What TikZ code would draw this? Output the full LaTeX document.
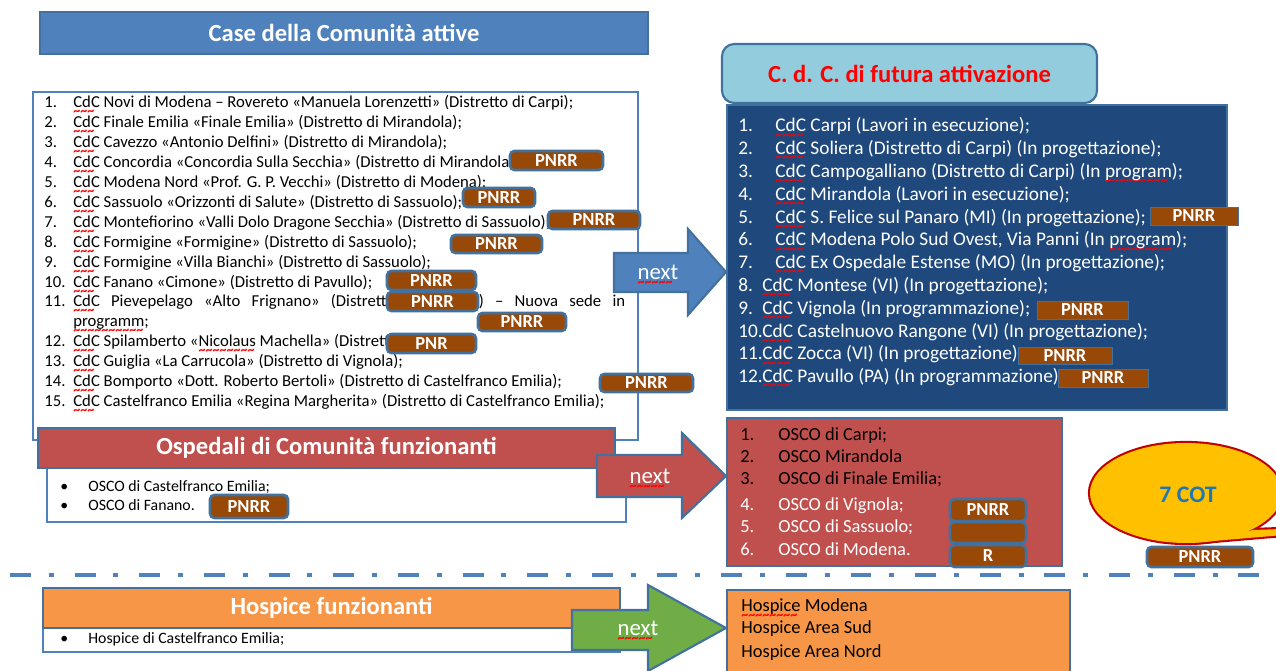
\documentclass[tikz,border=0pt]{standalone}
\usepackage{fontspec}
\setmainfont{Carlito}
\usetikzlibrary{fit}

\definecolor{hdrblue}{HTML}{4F81BD}
\definecolor{edgeblue}{HTML}{41719C}
\definecolor{skyblue}{HTML}{93CDDD}
\definecolor{navy}{HTML}{1F497D}
\definecolor{osred}{HTML}{C0504D}
\definecolor{hosorange}{HTML}{F79646}
\definecolor{nxtgreen}{HTML}{70AD47}
\definecolor{pnrrbrown}{HTML}{984807}
\definecolor{cotyellow}{HTML}{FFC000}
\definecolor{cotred}{HTML}{C00000}
\definecolor{cotblue}{HTML}{1F77B4}

% red spell-check wave
\newcommand\sq[1]{\setbox0=\hbox{#1}%
  \rlap{\raisebox{-4pt}[0pt][0pt]{\color{red}\fontsize{8}{8}\selectfont\bfseries
    \hbox to \wd0{\leaders\hbox{\textasciitilde}\hfill}}}#1}

\tikzset{
  hdrtxt/.style={text=white, font=\fontsize{14}{16}\selectfont\bfseries},
  hdr/.style={draw=edgeblue, line width=1.2pt, inner sep=0pt, label={[hdrtxt]center:#1}},
  box/.style={draw=edgeblue, line width=1.2pt, inner sep=0pt},
  pnrrtxt/.style={text=white, font=\fontsize{10.5}{12}\selectfont\bfseries},
  pnrr/.style={draw=edgeblue, fill=pnrrbrown, rounded corners=2.5pt, line width=1.5pt,
    inner sep=0pt, label={[pnrrtxt]center:#1}},
  pnrr/.default=PNRR,
  pnrrflat/.style={pnrr, rounded corners=0pt, line width=0.5pt},
  ltxt/.style={anchor=base west, inner sep=0pt},
  nexttxt/.style={text=white, font=\fontsize{13}{15}\selectfont},
  arrowbox/.style={draw=edgeblue, line width=1.2pt},
}

\begin{document}
\begin{tikzpicture}[x=0.02cm, y=-0.02cm]
  \useasboundingbox (0,0) rectangle (1276,671);
  \clip (0,0) rectangle (1276,671);

  % Case della Comunita attive
  \node[hdr=Case della Comunità attive, fill=hdrblue, fit={(40,12) (648,54)}] (attive) {};
  \node[box, draw=hdrblue, line width=0.8pt, fit={(33,92) (638,440)}] (attivelist) {};
  \foreach \y/\n/\t [count=\i] in {
      108/1./{\sq{CdC} Novi di Modena – Rovereto «Manuela Lorenzetti» (Distretto di Carpi);},
      128/2./{\sq{CdC} Finale Emilia «Finale Emilia» (Distretto di Mirandola);},
      148/3./{\sq{CdC} Cavezzo «Antonio Delfini» (Distretto di Mirandola);},
      168/4./{\sq{CdC} Concordia «Concordia Sulla Secchia» (Distretto di Mirandola);},
      188/5./{\sq{CdC} Modena Nord «Prof. G. P. Vecchi» (Distretto di Modena);},
      208/6./{\sq{CdC} Sassuolo «Orizzonti di Salute» (Distretto di Sassuolo);},
      228/7./{\sq{CdC} Montefiorino «Valli Dolo Dragone Secchia» (Distretto di Sassuolo);},
      248/8./{\sq{CdC} Formigine «Formigine» (Distretto di Sassuolo);},
      268/9./{\sq{CdC} Formigine «Villa Bianchi» (Distretto di Sassuolo);},
      288/10./{\sq{CdC} Fanano «Cimone» (Distretto di Pavullo);},
      307/11./{\makebox[11.04cm][s]{\sq{CdC} Pievepelago «Alto Frignano» (Distretto di Pavullo) – Nuova sede in}},
      327/{}/{\sq{programm};},
      347/12./{\sq{CdC} Spilamberto «\sq{Nicolaus} Machella» (Distretto di Vignola);},
      367/13./{\sq{CdC} Guiglia «La Carrucola» (Distretto di Vignola);},
      387/14./{\sq{CdC} Bomporto «Dott. Roberto Bertoli» (Distretto di Castelfranco Emilia);},
      407/15./{\sq{CdC} Castelfranco Emilia «Regina Margherita» (Distretto di Castelfranco Emilia);}}
    \node[ltxt, font=\fontsize{9.5}{11}\selectfont] (att\i) at (44,\y) {\makebox[0.58cm][l]{\n}\t};
  \node[pnrr, fit={(510,151) (603,170)}] (pnrra) {};
  \node[pnrr, fit={(463,188) (535,207)}] (pnrrb) {};
  \node[pnrr, fit={(548,211) (640,229)}] (pnrrc) {};
  \node[pnrr, fit={(451,235) (542,253)}] (pnrrd) {};
  \node[pnrr, fit={(387,271) (476,290)}] (pnrre) {};
  \node[pnrr, fit={(387,292) (478,311)}] (pnrrf) {};
  \node[pnrr, fit={(478,313) (566,331)}] (pnrrg) {};
  \node[pnrr=PNR, fit={(387,334) (476,353)}] (pnrrh) {};
  \node[pnrr, fit={(600,374) (693,392)}] (pnrri) {};

  % C. d. C. di futura attivazione
  \node[hdr={\textcolor{red}{C. d. C. di futura attivazione}}, fill=skyblue, rounded corners=7pt,
    fit={(722,44) (1097,103)}] (futura) {};
  \node[box, fill=navy, fit={(727,105) (1227,410)}] (futuralist) {};
  \foreach \n/\w/\t [count=\i] in {
      1./0.74/{\sq{CdC} Carpi (Lavori in esecuzione);},
      2./0.74/{\sq{CdC} Soliera (Distretto di Carpi) (In progettazione);},
      3./0.74/{\sq{CdC} Campogalliano (Distretto di Carpi) (In \sq{program});},
      4./0.74/{\sq{CdC} Mirandola (Lavori in esecuzione);},
      5./0.74/{\sq{CdC} S. Felice sul Panaro (MI) (In progettazione);},
      6./0.74/{\sq{CdC} Modena Polo Sud Ovest, Via Panni (In \sq{program});},
      7./0.74/{\sq{CdC} Ex Ospedale Estense (MO) (In progettazione);},
      8./0.48/{\sq{CdC} Montese (VI) (In progettazione);},
      9./0.48/{\sq{CdC} Vignola (In programmazione);},
      10./0.48/{\sq{CdC} Castelnuovo Rangone (VI) (In progettazione);},
      11./0.48/{\sq{CdC} Zocca (VI) (In progettazione);},
      12./0.48/{\sq{CdC} Pavullo (PA) (In programmazione);}}
    \node[ltxt, text=white, font=\fontsize{11}{13}\selectfont] (fut\i) at (738,{132+(\i-1)*22.8}) {\makebox[\w cm][l]{\n}\t};
  \node[pnrrflat, fit={(1150,207) (1238,225)}] (pnrrj) {};
  \node[pnrrflat, fit={(1037,301) (1128,319)}] (pnrrk) {};
  \node[pnrrflat, fit={(1018,347) (1112,364)}] (pnrrl) {};
  \node[pnrrflat, fit={(1058,369) (1148,387)}] (pnrrm) {};

  \filldraw[arrowbox, fill=hdrblue] (614,253) -- (688,253) -- (688,229) -- (726,272)
    -- (688,315) -- (688,292) -- (614,292) -- cycle;
  \node[nexttxt] (nextcdc) at (658,272) {\sq{next}};

  % Ospedali di Comunita
  \node[box, draw=hdrblue, line width=0.8pt, fill=white, fit={(47,468) (626,522)}] (oscolist) {};
  \node[hdr=Ospedali di Comunità funzionanti, fill=osred, fit={(38,428) (615,468)}] (osco) {};
  \node[ltxt, font=\fontsize{9}{11}\selectfont] (osco1) at (60,492) {\makebox[0.56cm][l]{\textbullet}OSCO di Castelfranco Emilia;};
  \node[ltxt, font=\fontsize{9}{11}\selectfont] (osco2) at (60,511) {\makebox[0.56cm][l]{\textbullet}OSCO di Fanano.};
  \node[pnrr, fit={(210,495) (288,518)}] (pnrrn) {};

  \filldraw[arrowbox, fill=osred] (597,455) -- (682,455) -- (682,433) -- (726,476)
    -- (682,518) -- (682,497) -- (597,497) -- cycle;
  \node[nexttxt] (nextosco) at (650,476) {\sq{next}};

  \node[box, fill=osred, fit={(727,418) (1062,566)}] (oscofut) {};
  \foreach \n/\y/\c/\t [count=\i] in {
      1./441/black/{OSCO di Carpi;},
      2./463/black/{OSCO Mirandola},
      3./485/black/{OSCO di Finale Emilia;},
      4./511/white/{OSCO di Vignola;},
      5./533/white/{OSCO di Sassuolo;},
      6./556/white/{OSCO di Modena.}}
    \node[ltxt, text=\c, font=\fontsize{10.5}{12}\selectfont] (oscofut\i) at (740,\y) {\makebox[0.76cm][l]{\n}\t};
  \node[pnrr, fit={(950,499) (1026,521)}] (pnrro) {};
  \node[pnrr={}, fit={(950,522) (1026,543)}] (pnrrp) {};
  \node[pnrr=R, fit={(950,545) (1026,567)}] (pnrrq) {};

  % 7 COT
  \coordinate (cot) at (1186,493);
  \filldraw[fill=cotyellow, draw=cotred, line width=2.4pt] (cot) ellipse [x radius=96, y radius=50];
  \filldraw[fill=cotyellow, draw=cotred, line width=2.4pt] (1253,530) -- (1400,525) -- (1190,543) -- cycle;
  \fill[cotyellow] (cot) ellipse [x radius=96, y radius=50];
  \fill[cotyellow] (1253,530) -- (1400,525) -- (1190,543) -- cycle;
  \node[text=cotblue, font=\fontsize{13.5}{15}\selectfont\bfseries] (cottxt) at (1188,495) {7 COT};
  \node[pnrr, fit={(1147,547) (1253,567)}] (pnrrr) {};

  \draw[hdrblue, line width=2.8pt, dash pattern=on 11.9pt off 10.2pt on 2.8pt off 11.9pt] (10,575) -- (1290,575);

  % Hospice
  \node[box, draw=hdrblue, line width=0.8pt, fill=white, fit={(43,628) (620,652)}] (hospicelist) {};
  \node[hdr=Hospice funzionanti, fill=hosorange, fit={(43,588) (620,628)}] (hospice) {};
  \node[ltxt, font=\fontsize{9}{11}\selectfont] (hospice1) at (60,644) {\makebox[0.56cm][l]{\textbullet}Hospice di Castelfranco Emilia;};

  \node[box, fill=hosorange, fit={(727,590) (1070,690)}] (hospicefut) {};
  \foreach \y/\t [count=\i] in {612/{\sq{Hospice} Modena}, 634/{Hospice Area Sud}, 658/{Hospice Area Nord}}
    \node[ltxt, font=\fontsize{10.5}{12}\selectfont] (hospicefut\i) at (741,\y) {\t};

  \filldraw[arrowbox, fill=nxtgreen] (572,610) -- (648,610) -- (648,585) -- (726,628)
    -- (648,671) -- (648,650) -- (572,650) -- cycle;
  \node[nexttxt] (nexthospice) at (638,628) {\sq{next}};
\end{tikzpicture}
\end{document}
